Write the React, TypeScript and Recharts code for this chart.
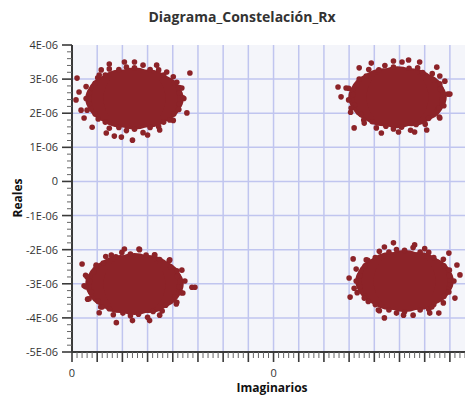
import React from 'react';
import { ScatterChart, Scatter, XAxis, YAxis, CartesianGrid, ReferenceLine } from 'recharts';

const RED = '#8C2328';
const FONT = '"Open Sans", "Noto Sans", sans-serif';

// axis ticks (values in units of 1E-06)
const xMajorTicks = [-4, -3.5, -3, -2.5, -2, -1.5, -1, -0.5, 0, 0.5, 1, 1.5, 2, 2.5, 3, 3.5];
const xLabelTicks = [-4, 0];
const xLabelText = ['0', '0'];
const yMajorTicks = [-5, -4, -3, -2, -1, 0, 1, 2, 3, 4];
const yTickLabels = ['-5E-06', '-4E-06', '-3E-06', '-2E-06', '-1E-06', '0', '1E-06', '2E-06', '3E-06', '4E-06'];

const xMinorTicks: number[] = [];
xMajorTicks.forEach((m) => {
  for (let k = 1; k < 5; k++) {
    const v = Math.round((m + k * 0.1) * 10) / 10;
    if (v <= 3.8) xMinorTicks.push(v);
  }
});
const yMinorTicks: number[] = [];
yMajorTicks.forEach((m) => {
  for (let k = 1; k < 5; k++) {
    const v = Math.round((m + k * 0.2) * 10) / 10;
    if (v < 4) yMinorTicks.push(v);
  }
});
const xAllTicks = [...xMajorTicks, ...xMinorTicks].sort((a, b) => a - b);
const yAllTicks = [...yMajorTicks, ...yMinorTicks].sort((a, b) => a - b);

// cluster centres (Imaginarios x, Reales y) — TL, TR, BL, BR
const clusterCenters = [
  { x: -2.76, y: 2.43 },
  { x: 2.46, y: 2.47 },
  { x: -2.76, y: -3.01 },
  { x: 2.6, y: -2.92 },
];
// dense core pieces (horizontal offsets from each centre)
const coreInnerOffsets = [-0.28, 0.28];
const coreMidOffsets = [-0.48, 0.48];
const coreOuterOffsets = [-0.66, 0.66];

// rim points around each cloud (offsets from centre)
const rimA = [
  [0.98, 0], [0.89, 0.32], [0.77, 0.64], [0.48, 0.84], [0.17, 0.98], [-0.16, 0.92], [-0.5, 0.87], [-0.73, 0.61],
  [-0.96, 0.35], [-0.96, 0], [-0.94, -0.34], [-0.72, -0.6], [-0.5, -0.87], [-0.16, -0.94], [0.17, -1.0], [0.48, -0.83],
  [0.77, -0.64], [0.88, -0.32],
  [0.89, 0.16], [0.78, 0.45], [0.58, 0.69], [0.31, 0.85], [0, 0.9], [-0.31, 0.85], [-0.58, 0.69], [-0.78, 0.45],
  [-0.89, 0.16], [-0.89, -0.16], [-0.78, -0.45], [-0.58, -0.69], [-0.31, -0.85], [0, -0.9], [0.31, -0.85], [0.58, -0.69],
  [0.78, -0.45], [0.89, -0.16],
];
const rimB = [
  [1.0, 0.09], [0.84, 0.39], [0.69, 0.69], [0.4, 0.86], [0.09, 1.03], [-0.25, 0.93], [-0.57, 0.81], [-0.76, 0.53],
  [-0.97, 0.26], [-0.97, -0.08], [-0.93, -0.44], [-0.67, -0.67], [-0.42, -0.9], [-0.08, -0.93], [0.26, -0.97], [0.55, -0.79],
  [0.83, -0.58], [0.92, -0.25],
  [0.85, 0.23], [0.72, 0.5], [0.5, 0.72], [0.23, 0.85], [-0.08, 0.88], [-0.37, 0.8], [-0.62, 0.62], [-0.8, 0.37],
  [-0.88, 0.08], [-0.85, -0.23], [-0.72, -0.5], [-0.5, -0.72], [-0.23, -0.85], [0.08, -0.88], [0.37, -0.8], [0.62, -0.62],
  [0.8, -0.37], [0.88, -0.08],
];

// scattered outliers
const edgeTL = [
  { x: -3.9, y: 3.03 }, { x: -3.92, y: 2.39 }, { x: -1.66, y: 3.18 }, { x: -2.96, y: 3.5 },
  { x: -2.76, y: 3.5 }, { x: -3.26, y: 3.44 }, { x: -1.8, y: 2.45 }, { x: -1.72, y: 2.01 },
  { x: -2.8, y: 1.21 }, { x: -3.02, y: 1.3 }, { x: -2.5, y: 1.36 }, { x: -3.82, y: 2.09 },
  { x: -2.06, y: 1.8 }, { x: -3.42, y: 3.27 }, { x: -2.32, y: 3.41 }, { x: -2.12, y: 3.21 },
  { x: -1.92, y: 2.91 }, { x: -3.6, y: 1.59 }, { x: -3.32, y: 1.42 }, { x: -3.86, y: 2.62 },
  { x: -3.76, y: 1.86 }, { x: -1.82, y: 2.74 }, { x: -2.26, y: 1.51 }, { x: -3.16, y: 1.33 },
  { x: -3.46, y: 3.12 },
];
const edgeTR = [
  { x: 1.28, y: 2.77 }, { x: 1.34, y: 2.48 }, { x: 1.6, y: 1.57 }, { x: 2.14, y: 1.42 },
  { x: 3.04, y: 1.51 }, { x: 3.3, y: 1.86 }, { x: 3.5, y: 2.56 }, { x: 3.4, y: 2.94 },
  { x: 3.3, y: 3.09 }, { x: 3.24, y: 3.35 }, { x: 2.68, y: 3.56 }, { x: 2.38, y: 3.53 },
  { x: 1.7, y: 3.33 }, { x: 1.44, y: 2.74 }, { x: 1.54, y: 2.15 }, { x: 1.8, y: 1.71 },
  { x: 2.48, y: 1.45 }, { x: 2.8, y: 1.45 }, { x: 3.28, y: 2.15 }, { x: 2.9, y: 3.5 },
  { x: 1.94, y: 3.47 },
];
const edgeBL = [
  { x: -3.8, y: -2.42 }, { x: -3.76, y: -3.06 }, { x: -3.66, y: -3.44 }, { x: -3.46, y: -3.85 },
  { x: -3.12, y: -4.14 }, { x: -2.46, y: -4.08 }, { x: -2.26, y: -3.92 }, { x: -1.92, y: -3.54 },
  { x: -1.62, y: -3.1 }, { x: -1.56, y: -3.1 }, { x: -1.82, y: -2.6 }, { x: -2.06, y: -2.3 },
  { x: -2.36, y: -2.16 }, { x: -2.96, y: -1.98 }, { x: -3.22, y: -2.16 }, { x: -3.52, y: -2.45 },
  { x: -3.7, y: -2.8 }, { x: -2.8, y: -4.08 }, { x: -1.8, y: -3.27 }, { x: -3.4, y: -3.68 },
  { x: -2.66, y: -2.0 },
];
const edgeBR = [
  { x: 1.58, y: -2.27 }, { x: 1.5, y: -2.83 }, { x: 1.52, y: -3.39 }, { x: 1.8, y: -3.42 },
  { x: 2.2, y: -4.0 }, { x: 2.58, y: -3.92 }, { x: 3.1, y: -3.86 }, { x: 3.28, y: -3.86 },
  { x: 3.6, y: -3.42 }, { x: 3.7, y: -2.74 }, { x: 3.64, y: -2.45 }, { x: 3.48, y: -2.1 },
  { x: 2.8, y: -1.86 }, { x: 2.38, y: -1.8 }, { x: 2.2, y: -1.92 }, { x: 1.84, y: -2.3 },
  { x: 1.6, y: -3.13 }, { x: 3.14, y: -3.68 }, { x: 2.08, y: -3.77 }, { x: 3.5, y: -3.03 },
  { x: 3.0, y: -1.97 },
];

const rimSets = [rimA, rimB, rimB, rimA];
const coreCenters = clusterCenters;
const withOffsets = (offs: number[]) =>
  clusterCenters.flatMap((c) => offs.map((o) => ({ x: c.x + o, y: c.y })));
const coreInner = withOffsets(coreInnerOffsets);
const coreMid = withOffsets(coreMidOffsets);
const coreOuter = withOffsets(coreOuterOffsets);
const rimPoints = clusterCenters.flatMap((c, i) => rimSets[i].map(([dx, dy]) => ({ x: c.x + dx, y: c.y + dy })));
const outliers = [...edgeTL, ...edgeTR, ...edgeBL, ...edgeBR];

const isMajorX = (v: number) => xMajorTicks.some((m) => Math.abs(m - v) < 1e-6);
const isMajorY = (v: number) => yMajorTicks.some((m) => Math.abs(m - v) < 1e-6);

const XTick = (props: any) => {
  const { x, y, payload } = props;
  const v = payload.value;
  const major = isMajorX(v);
  const li = xLabelTicks.findIndex((m) => Math.abs(m - v) < 1e-6);
  return (
    <g>
      <line x1={x} x2={x} y1={y} y2={y + (major ? 10 : 6)} stroke={major ? '#3a3a3a' : '#666'} strokeWidth={major ? 1.6 : 1} />
      {li >= 0 && (
        <text x={x} y={y + 25} textAnchor="middle" fontSize={11} fill="#333" fontFamily={FONT}>
          {xLabelText[li]}
        </text>
      )}
    </g>
  );
};

const YTick = (props: any) => {
  const { x, y, payload } = props;
  const v = payload.value;
  const major = isMajorY(v);
  const li = yMajorTicks.findIndex((m) => Math.abs(m - v) < 1e-6);
  return (
    <g>
      <line x1={x} x2={x - (major ? 10 : 5)} y1={y} y2={y} stroke={major ? '#3a3a3a' : '#666'} strokeWidth={major ? 1.6 : 1} />
      {li >= 0 && (
        <text x={x - 14} y={y + 4} textAnchor="end" fontSize={11} fill="#333" fontFamily={FONT}>
          {yTickLabels[li]}
        </text>
      )}
    </g>
  );
};

const dot = (r: number) => (props: any) => <circle cx={props.cx} cy={props.cy} r={r} fill={RED} />;

export default function App() {
  return (
    <div style={{ position: 'absolute', left: 0, top: 0, width: 465, height: 397, background: '#fff' }}>
      <ScatterChart width={465} height={397} margin={{ top: 45, right: 0, bottom: 0, left: 0 }}>
        <CartesianGrid stroke="none" fill="#F4F5FA" />
        <XAxis
          dataKey="x"
          type="number"
          domain={[-4, 3.8]}
          ticks={xAllTicks}
          interval={0}
          allowDataOverflow
          height={45}
          tickSize={0}
          tickMargin={0}
          tick={<XTick />}
          axisLine={{ stroke: '#3a3a3a', strokeWidth: 2 }}
        />
        <YAxis
          dataKey="y"
          type="number"
          domain={[-5, 4]}
          ticks={yAllTicks}
          interval={0}
          allowDataOverflow
          width={72}
          tickSize={0}
          tickMargin={0}
          tick={<YTick />}
          axisLine={{ stroke: '#3a3a3a', strokeWidth: 2 }}
        />
        {xMajorTicks.filter((v) => v > -4).map((v) => (
          <ReferenceLine key={'gx' + v} x={v} stroke="#C0C5EF" strokeWidth={1.5} />
        ))}
        {yMajorTicks.filter((v) => v > -5 && v < 4).map((v) => (
          <ReferenceLine key={'gy' + v} y={v} stroke="#C0C5EF" strokeWidth={1.5} />
        ))}
        <Scatter data={coreOuter} shape={dot(16)} isAnimationActive={false} />
        <Scatter data={coreMid} shape={dot(24)} isAnimationActive={false} />
        <Scatter data={coreInner} shape={dot(29)} isAnimationActive={false} />
        <Scatter data={coreCenters} shape={dot(31)} isAnimationActive={false} />
        <Scatter data={rimPoints} shape={dot(2.8)} isAnimationActive={false} />
        <Scatter data={outliers} shape={dot(2.8)} isAnimationActive={false} />
      </ScatterChart>
      <div style={{ position: 'absolute', left: 242, top: 8, transform: 'translateX(-50%)', whiteSpace: 'nowrap', fontFamily: FONT, fontWeight: 700, fontSize: 14, color: '#333', lineHeight: '18px' }}>
        Diagrama_Constelación_Rx
      </div>
      <div style={{ position: 'absolute', left: 18, top: 198, transform: 'translate(-50%, -50%) rotate(-90deg)', whiteSpace: 'nowrap', fontFamily: FONT, fontWeight: 700, fontSize: 12, color: '#111', lineHeight: '16px' }}>
        Reales
      </div>
      <div style={{ position: 'absolute', left: 272, top: 388, transform: 'translate(-50%, -50%)', whiteSpace: 'nowrap', fontFamily: FONT, fontWeight: 700, fontSize: 12, color: '#111', lineHeight: '16px' }}>
        Imaginarios
      </div>
    </div>
  );
}
